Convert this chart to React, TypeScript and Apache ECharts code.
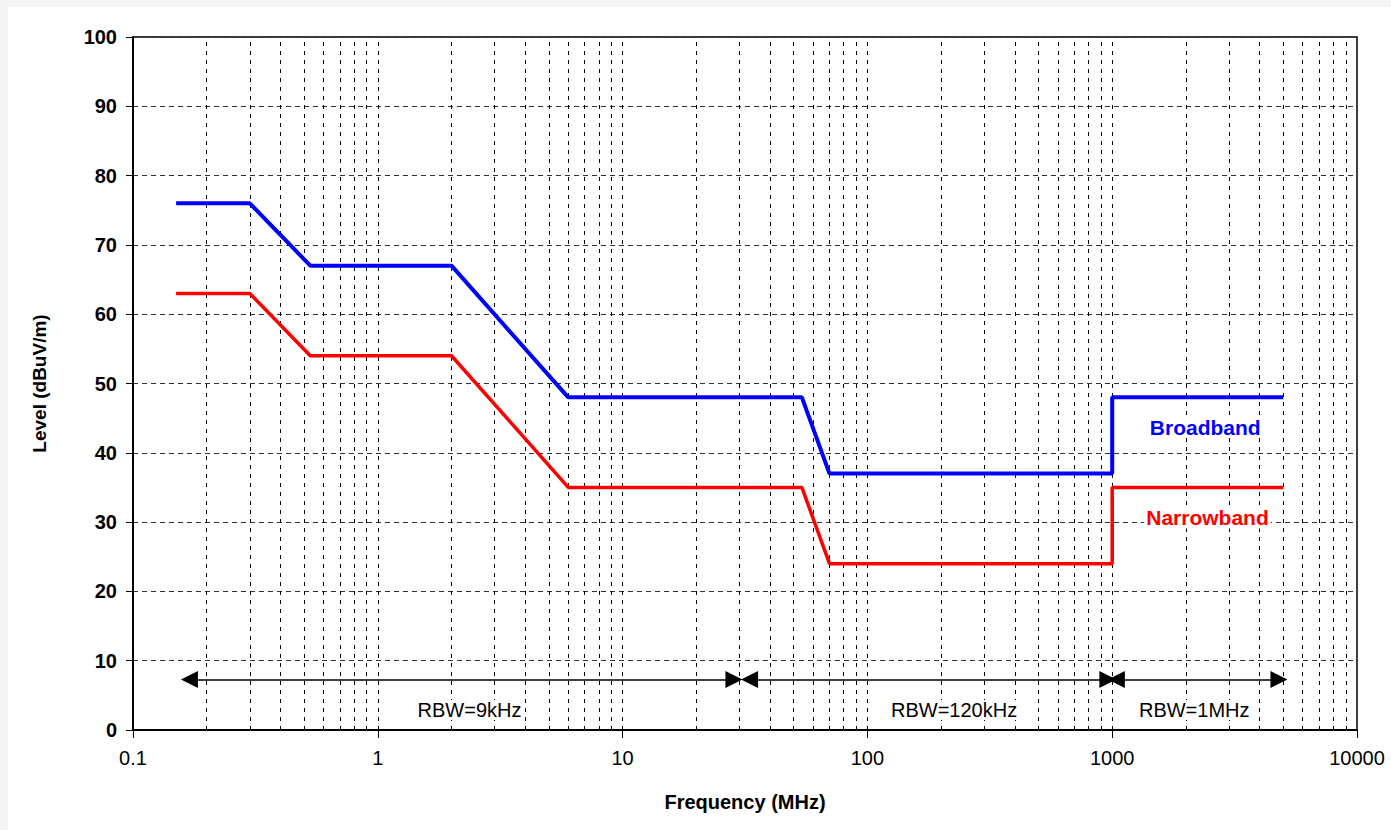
import React, { useEffect, useRef } from "react";
import * as echarts from "echarts";

// Limit lines (frequency in MHz, level in dBuV/m)
const broadbandFreq = [0.15, 0.3, 0.53, 2, 6, 54, 70, 1000, 1000, 5000];
const broadbandLevel = [76, 76, 67, 67, 48, 48, 37, 37, 48, 48];
const narrowbandFreq = [0.15, 0.3, 0.53, 2, 6, 54, 70, 1000, 1000, 5000];
const narrowbandLevel = [63, 63, 54, 54, 35, 35, 24, 24, 35, 35];

// RBW ranges (arrow start, arrow end) and their labels
const rbwStart = [0.17, 33, 1040];
const rbwEnd = [28.5, 960, 4800];
const rbwArrowLevel = 7.3;
const rbwLabels = ["RBW=9kHz", "RBW=120kHz", "RBW=1MHz"];
const rbwLabelFreq = [2.37, 226, 2163];
const rbwLabelLevel = 2.9;

// Series name labels
const seriesLabelNames = ["Broadband", "Narrowband"];
const seriesLabelFreq = [2400, 2450];
const seriesLabelLevel = [43.7, 30.6];

const xTickLabels = ["0.1", "1", "10", "100", "1000", "10000"];

const FONT = "'Liberation Sans', Arial, sans-serif";

function minorGridValues(): number[] {
  const out: number[] = [];
  for (let d = 0.1; d < 10000; d *= 10) {
    for (let m = 2; m <= 9; m++) out.push(Number((d * m).toPrecision(6)));
  }
  // decade lines inside the plot
  [1, 10, 100, 1000].forEach((v) => out.push(v));
  return out;
}

export default function App() {
  const ref = useRef<HTMLDivElement>(null);
  useEffect(() => {
    if (!ref.current) return;
    const chart = echarts.init(ref.current, null, { renderer: "svg" });
    const zip = (xs: number[], ys: number[]) => xs.map((x, i) => [x, ys[i]]);

    const option: any = {
      animation: false,
      backgroundColor: "#f4f4f4",
      graphic: [
        {
          type: "rect",
          z: -10,
          silent: true,
          shape: { x: 8, y: 7, width: 1391, height: 830 },
          style: { fill: "#ffffff" },
        },
      ],
      grid: {
        left: 133,
        right: 34,
        top: 37,
        bottom: 100,
        show: true,
        borderColor: "#000",
        borderWidth: 1.5,
        backgroundColor: "transparent",
      },
      xAxis: {
        type: "log",
        logBase: 10,
        min: 0.1,
        max: 10000,
        name: "Frequency (MHz)",
        nameLocation: "middle",
        nameGap: 62,
        nameTextStyle: { fontFamily: FONT, fontSize: 20, fontWeight: "bold", color: "#000" },
        axisLine: { show: true, onZero: false, lineStyle: { color: "#000", width: 2 } },
        axisTick: { show: true, length: 8, lineStyle: { color: "#000", width: 1 } },
        axisLabel: {
          fontFamily: FONT,
          fontSize: 20,
          color: "#000",
          margin: 18,
          formatter: (v: number) => {
            const s = String(Number(v.toPrecision(6)));
            return xTickLabels.indexOf(s) >= 0 ? s : "";
          },
        },
        splitLine: { show: false },
      },
      yAxis: {
        type: "value",
        min: 0,
        max: 100,
        interval: 10,
        name: "Level (dBuV/m)",
        nameLocation: "middle",
        nameGap: 84,
        nameTextStyle: { fontFamily: FONT, fontSize: 19, fontWeight: "bold", color: "#000" },
        axisLine: { show: true, lineStyle: { color: "#000", width: 2 } },
        axisTick: { show: true, length: 7, lineStyle: { color: "#000", width: 1 } },
        axisLabel: {
          fontFamily: FONT,
          fontSize: 20,
          fontWeight: "bold",
          color: "#000",
          margin: 16,
        },
        splitLine: {
          show: true,
          lineStyle: { color: "#333", type: [5, 4], width: 1 },
        },
      },
      series: [
        {
          type: "line",
          name: "grid",
          data: [],
          silent: true,
          markLine: {
            silent: true,
            symbol: "none",
            label: { show: false },
            lineStyle: { color: "#000", type: [4, 5], width: 1 },
            data: minorGridValues().map((v) => ({ xAxis: v })),
          },
        },
        {
          type: "line",
          name: "Broadband",
          data: zip(broadbandFreq, broadbandLevel),
          showSymbol: false,
          symbol: "none",
          lineStyle: { color: "#0000ff", width: 4 },
          z: 5,
        },
        {
          type: "line",
          name: "Narrowband",
          data: zip(narrowbandFreq, narrowbandLevel),
          showSymbol: false,
          symbol: "none",
          lineStyle: { color: "#ff0000", width: 3.5 },
          z: 5,
        },
        {
          type: "line",
          name: "rbw",
          data: [],
          silent: true,
          markLine: {
            silent: true,
            symbol: ["triangle", "triangle"],
            symbolSize: [17, 17],
            label: { show: false },
            lineStyle: { color: "#000", type: "solid", width: 1.5 },
            itemStyle: { color: "#000" },
            data: rbwStart.map((s, i) => [
              { coord: [s, rbwArrowLevel] },
              { coord: [rbwEnd[i], rbwArrowLevel] },
            ]),
          },
          z: 6,
        },
        {
          type: "scatter",
          name: "rbwLabels",
          symbolSize: 0,
          silent: true,
          itemStyle: { opacity: 1 },
          data: rbwLabels.map((t, i) => ({ name: t, value: [rbwLabelFreq[i], rbwLabelLevel] })),
          label: {
            show: true,
            position: "inside",
            formatter: (p: any) => p.name,
            fontFamily: FONT,
            fontSize: 20,
            color: "#000",
            opacity: 1,
            textBorderWidth: 0,
            backgroundColor: "#fff",
            padding: [0, 2],
          },
          z: 7,
        },
        {
          type: "scatter",
          name: "seriesLabels",
          symbolSize: 0,
          silent: true,
          itemStyle: { opacity: 1 },
          data: seriesLabelNames.map((t, i) => ({
            name: t,
            value: [seriesLabelFreq[i], seriesLabelLevel[i]],
            label: { color: i === 0 ? "#0000ff" : "#ff0000" },
          })),
          label: {
            show: true,
            position: "inside",
            formatter: (p: any) => p.name,
            fontFamily: FONT,
            fontSize: 21,
            fontWeight: "bold",
            opacity: 1,
            textBorderWidth: 0,
            backgroundColor: "#fff",
            padding: [0, 2],
          },
          z: 7,
        },
      ],
    };
    chart.setOption(option);
    return () => chart.dispose();
  }, []);

  return (
    <div
      ref={ref}
      style={{ position: "fixed", left: 0, top: 0, width: 1391, height: 830 }}
    />
  );
}
